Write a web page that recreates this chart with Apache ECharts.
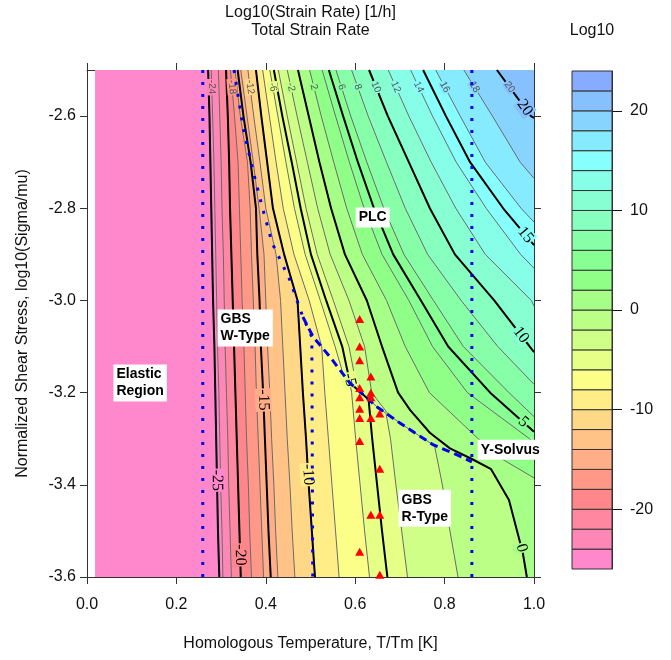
<!DOCTYPE html>
<html>
<head>
<meta charset="utf-8">
<title>Total Strain Rate</title>
<script src="https://cdn.jsdelivr.net/npm/echarts@6.0.0/dist/echarts.min.js"></script>
<style>
html,body{margin:0;padding:0;background:#ffffff;}
#chart{width:671px;height:660px;}
</style>
</head>
<body>
<div id="chart"></div>
<script>
// ---------------- data ----------------
const xTicks = [0.0, 0.2, 0.4, 0.6, 0.8, 1.0];
const yTicks = [-3.6, -3.4, -3.2, -3.0, -2.8, -2.6];
const keyTicks = [-20, -10, 0, 10, 20];
const keyLevels = [-26,-24,-22,-20,-18,-16,-14,-12,-10,-8,-6,-4,-2,0,2,4,6,8,10,12,14,16,18,20,22,24];
const bandColors = ['#FF87CB','#FF87B6','#FF87A0','#FF878B','#FF9887','#FFAE87','#FFC387','#FFD887','#FFED87','#FBFF87','#E5FF87','#D0FF87','#BBFF87','#A6FF87','#90FF87','#87FF93','#87FFA8','#87FFBE','#87FFD3','#87FFE8','#87FFFD','#87EBFF','#87D5FF','#87C0FF','#87ABFF'];

// contour lines: [T/Tm, log10(sigma/mu)] from the top edge downwards
const c_m25 = [[0.271,-2.5],[0.274,-2.6],[0.276,-2.7],[0.278,-2.8],[0.280,-2.9],[0.282,-3.0],[0.285,-3.1],[0.287,-3.2],[0.289,-3.3],[0.291,-3.4],[0.293,-3.5],[0.296,-3.6]];
const c_m24 = [[0.278,-2.5],[0.281,-2.6],[0.284,-2.7],[0.286,-2.8],[0.288,-2.9],[0.290,-3.0],[0.292,-3.1],[0.295,-3.2],[0.297,-3.3],[0.299,-3.4],[0.302,-3.5],[0.304,-3.6]];
const c_m22 = [[0.294,-2.5],[0.297,-2.6],[0.300,-2.7],[0.302,-2.8],[0.305,-2.9],[0.307,-3.0],[0.309,-3.1],[0.312,-3.2],[0.315,-3.3],[0.317,-3.4],[0.320,-3.5],[0.323,-3.6]];
const c_m20 = [[0.311,-2.5],[0.315,-2.6],[0.318,-2.7],[0.320,-2.8],[0.323,-2.9],[0.326,-3.0],[0.329,-3.1],[0.332,-3.2],[0.335,-3.3],[0.338,-3.4],[0.341,-3.5],[0.344,-3.6]];
const c_m18 = [[0.321,-2.5],[0.330,-2.6],[0.338,-2.7],[0.341,-2.8],[0.344,-2.9],[0.347,-3.0],[0.351,-3.1],[0.354,-3.2],[0.357,-3.3],[0.361,-3.4],[0.364,-3.5],[0.368,-3.6]];
const c_m16 = [[0.331,-2.5],[0.343,-2.6],[0.359,-2.7],[0.365,-2.8],[0.368,-2.9],[0.372,-3.0],[0.376,-3.1],[0.379,-3.2],[0.383,-3.3],[0.387,-3.4],[0.391,-3.5],[0.395,-3.6]];
const c_m15 = [[0.337,-2.5],[0.350,-2.6],[0.366,-2.7],[0.378,-2.8],[0.381,-2.9],[0.386,-3.0],[0.389,-3.1],[0.394,-3.2],[0.398,-3.3],[0.402,-3.4],[0.406,-3.5],[0.411,-3.6]];
const c_m14 = [[0.344,-2.5],[0.358,-2.6],[0.372,-2.7],[0.385,-2.8],[0.396,-2.9],[0.400,-3.0],[0.404,-3.1],[0.409,-3.2],[0.413,-3.3],[0.418,-3.4],[0.422,-3.5],[0.427,-3.6]];
const c_m12 = [[0.360,-2.5],[0.373,-2.6],[0.387,-2.7],[0.400,-2.8],[0.423,-2.9],[0.433,-3.0],[0.438,-3.1],[0.443,-3.2],[0.448,-3.3],[0.454,-3.4],[0.459,-3.5],[0.465,-3.6]];
const c_m10 = [[0.378,-2.5],[0.390,-2.6],[0.403,-2.7],[0.416,-2.8],[0.441,-2.9],[0.471,-3.0],[0.477,-3.1],[0.483,-3.2],[0.490,-3.3],[0.496,-3.4],[0.503,-3.5],[0.510,-3.6]];
const c_m8 = [[0.393,-2.5],[0.408,-2.6],[0.423,-2.7],[0.439,-2.8],[0.463,-2.9],[0.497,-3.0],[0.525,-3.1],[0.532,-3.2],[0.540,-3.3],[0.548,-3.4],[0.556,-3.5],[0.564,-3.6]];
const c_m6 = [[0.409,-2.5],[0.427,-2.6],[0.445,-2.7],[0.464,-2.8],[0.488,-2.9],[0.522,-3.0],[0.555,-3.1],[0.573,-3.16],[0.588,-3.179],[0.592,-3.2],[0.601,-3.3],[0.611,-3.4],[0.621,-3.5],[0.632,-3.6]];
const c_m5 = [[0.418,-2.5],[0.437,-2.6],[0.458,-2.7],[0.478,-2.8],[0.501,-2.9],[0.535,-3.0],[0.571,-3.1],[0.582,-3.15],[0.589,-3.179],[0.609,-3.197],[0.630,-3.215],[0.638,-3.3],[0.649,-3.4],[0.660,-3.5],[0.672,-3.6]];
const c_m4 = [[0.428,-2.5],[0.448,-2.6],[0.469,-2.7],[0.490,-2.8],[0.515,-2.9],[0.551,-3.0],[0.586,-3.1],[0.600,-3.17],[0.611,-3.198],[0.649,-3.231],[0.669,-3.245],[0.679,-3.3],[0.691,-3.4],[0.704,-3.5],[0.717,-3.6]];
const c_m2 = [[0.448,-2.5],[0.470,-2.6],[0.493,-2.7],[0.516,-2.8],[0.544,-2.9],[0.586,-3.0],[0.621,-3.1],[0.637,-3.2],[0.675,-3.248],[0.700,-3.266],[0.774,-3.313],[0.778,-3.318],[0.795,-3.4],[0.812,-3.5],[0.830,-3.6]];
const c_0 = [[0.472,-2.5],[0.496,-2.6],[0.520,-2.7],[0.546,-2.8],[0.577,-2.9],[0.626,-3.0],[0.660,-3.1],[0.696,-3.2],[0.723,-3.238],[0.767,-3.287],[0.812,-3.321],[0.861,-3.344],[0.904,-3.366],[0.944,-3.433],[0.975,-3.548],[0.984,-3.6]];
const c_2 = [[0.498,-2.5],[0.524,-2.6],[0.552,-2.7],[0.581,-2.8],[0.616,-2.9],[0.670,-3.0],[0.712,-3.1],[0.766,-3.2],[0.875,-3.3],[0.930,-3.345],[1.0,-3.385]];
const c_4 = [[0.526,-2.5],[0.556,-2.6],[0.587,-2.7],[0.620,-2.8],[0.660,-2.9],[0.720,-3.0],[0.773,-3.1],[0.851,-3.2],[0.990,-3.3],[1.0,-3.31]];
const c_5 = [[0.541,-2.5],[0.573,-2.6],[0.606,-2.7],[0.642,-2.8],[0.685,-2.9],[0.747,-3.0],[0.808,-3.1],[0.902,-3.2],[1.0,-3.285]];
const c_6 = [[0.557,-2.5],[0.590,-2.6],[0.626,-2.7],[0.664,-2.8],[0.709,-2.9],[0.775,-3.0],[0.842,-3.1],[0.944,-3.2],[1.0,-3.252]];
const c_8 = [[0.592,-2.5],[0.629,-2.6],[0.670,-2.7],[0.712,-2.8],[0.762,-2.9],[0.837,-3.0],[0.919,-3.1],[1.0,-3.182]];
const c_10 = [[0.631,-2.5],[0.673,-2.6],[0.720,-2.7],[0.767,-2.8],[0.823,-2.9],[0.911,-3.0],[1.0,-3.112]];
const c_12 = [[0.674,-2.5],[0.720,-2.6],[0.770,-2.7],[0.825,-2.8],[0.891,-2.9],[0.994,-3.0],[1.0,-3.012]];
const c_14 = [[0.724,-2.5],[0.773,-2.6],[0.826,-2.7],[0.893,-2.8],[0.970,-2.9],[1.0,-2.93]];
const c_15 = [[0.752,-2.5],[0.803,-2.6],[0.857,-2.7],[0.931,-2.8],[1.0,-2.88]];
const c_16 = [[0.780,-2.5],[0.835,-2.6],[0.891,-2.7],[0.971,-2.8],[1.0,-2.83]];
const c_18 = [[0.843,-2.5],[0.907,-2.6],[0.969,-2.7],[1.0,-2.735]];
const c_20 = [[0.917,-2.5],[0.993,-2.6],[1.0,-2.604]];

const thinLevels = [-24,-22,-20,-18,-16,-14,-12,-10,-8,-6,-4,-2,0,2,4,6,8,10,12,14,16,18,20];
const thickLevels = [-25,-20,-15,-10,-5,0,5,10,15,20];
const thickLabelY = [-3.39,-3.552,-3.216,-3.378,-3.172,-3.537,-3.264,-3.075,-2.858,-2.582];
const thinLabelLevels = [-24,-18,-12,-6,-2,2,6,8,10,12,14,16,18,20];
const thinLabelY = -2.537;

// mechanism boundaries
const elasticRegionT = [0.018, 0.259];
const elasticEdgeT = 0.259;
const solvusTempT = 0.861;
const gbsW_T = [0.329,0.349,0.371,0.392,0.414,0.454,0.483,0.503,0.505];
const gbsW_S = [-2.5,-2.624,-2.717,-2.797,-2.875,-2.956,-3.036,-3.079,-3.6];
const ySolvus_T = [0.483,0.506,0.544,0.588,0.649,0.700,0.774,0.828,0.861];
const ySolvus_S = [-3.036,-3.079,-3.123,-3.179,-3.231,-3.266,-3.313,-3.335,-3.350];

// test points (red triangles)
const testT = [0.61,0.61,0.61,0.635,0.61,0.635,0.61,0.635,0.61,0.61,0.635,0.655,0.61,0.655,0.635,0.655,0.61,0.655];
const testS = [-3.04,-3.10,-3.13,-3.165,-3.19,-3.20,-3.21,-3.21,-3.235,-3.255,-3.255,-3.245,-3.305,-3.365,-3.465,-3.465,-3.545,-3.595];

// region annotations (left edge of box, vertical centre)
const regionNames = ['Elastic\nRegion','GBS\nW-Type','PLC','GBS\nR-Type','Y-Solvus'];
const regionT = [0.058, 0.291, 0.600, 0.696, 0.873];
const regionS = [-3.179, -3.060, -2.820, -3.451, -3.324];

// ---------------- build options ----------------
const xMin = 0, xMax = 1, yMin = -3.6, yMax = -2.5;
const FONT = '"Liberation Sans", Arial, sans-serif';
const FS = 16;
const contourByLevel = {
  '-25': c_m25, '-24': c_m24, '-22': c_m22, '-20': c_m20, '-18': c_m18, '-16': c_m16, '-15': c_m15,
  '-14': c_m14, '-12': c_m12, '-10': c_m10, '-8': c_m8, '-6': c_m6, '-5': c_m5, '-4': c_m4, '-2': c_m2,
  '0': c_0, '2': c_2, '4': c_4, '5': c_5, '6': c_6, '8': c_8, '10': c_10, '12': c_12, '14': c_14,
  '15': c_15, '16': c_16, '18': c_18, '20': c_20
};
function bandIndexAbove(L) { return Math.floor((L - keyLevels[0]) / 2); }

// filled regions: base band, then "value >= L" regions painted in increasing order
const fillPolys = [];
fillPolys.push({ pts: [[elasticRegionT[0], yMax], [xMax, yMax], [xMax, yMin], [elasticRegionT[0], yMin]], color: bandColors[0] });
thinLevels.forEach(function (L) {
  const line = contourByLevel[L];
  const pts = line.slice();
  const last = pts[pts.length - 1];
  if (Math.abs(last[1] - yMin) < 1e-9 && last[0] < xMax) pts.push([xMax, yMin]);
  pts.push([xMax, yMax]);
  fillPolys.push({ pts: pts, color: bandColors[bandIndexAbove(L)] });
});

function locate(line, y) {
  for (let i = 0; i < line.length - 1; i++) {
    const a = line[i], b = line[i + 1];
    if (y <= a[1] && y >= b[1]) {
      const t = (a[1] - b[1]) === 0 ? 0 : (a[1] - y) / (a[1] - b[1]);
      return { x: a[0] + t * (b[0] - a[0]), a: a, b: b };
    }
  }
  return null;
}
const labelItems = [];
thickLevels.forEach(function (L, i) { labelItems.push({ L: L, y: thickLabelY[i], thick: true }); });
thinLabelLevels.forEach(function (L) { labelItems.push({ L: L, y: thinLabelY, thick: false }); });
labelItems.forEach(function (it) { it.loc = locate(contourByLevel[it.L], it.y); });

const series = [];
series.push({
  type: 'custom', name: 'fill', xAxisIndex: 0, yAxisIndex: 0, z: 1, silent: true,
  encode: { x: 0, y: 1 },
  data: fillPolys.map(function (p, i) { return [p.pts[0][0], p.pts[0][1], i]; }),
  renderItem: function (params, api) {
    const p = fillPolys[params.dataIndex];
    return { type: 'polygon', z2: params.dataIndex, shape: { points: p.pts.map(function (q) { return api.coord(q); }) }, style: { fill: p.color } };
  }
});
thinLevels.forEach(function (L) {
  series.push({ type: 'line', name: 'thin' + L, data: contourByLevel[L], showSymbol: false, symbol: 'none', silent: true, z: 2,
    lineStyle: { color: '#6b6b6b', width: 1 } });
});
thickLevels.forEach(function (L) {
  series.push({ type: 'line', name: 'thick' + L, data: contourByLevel[L], showSymbol: false, symbol: 'none', silent: true, z: 3,
    lineStyle: { color: '#000000', width: 2 } });
});
series.push({
  type: 'custom', name: 'contourLabels', xAxisIndex: 0, yAxisIndex: 0, z: 4, silent: true,
  encode: { x: 0, y: 1 },
  data: labelItems.map(function (it, i) { return [it.loc.x, it.y, i]; }),
  renderItem: function (params, api) {
    const it = labelItems[params.dataIndex];
    const c = api.coord([it.loc.x, it.y]);
    const a = api.coord(it.loc.a), b = api.coord(it.loc.b);
    const ang = Math.atan2(b[1] - a[1], b[0] - a[0]);
    return {
      type: 'text', x: c[0], y: c[1], rotation: -ang, z2: 10,
      style: {
        text: String(it.L), x: 0, y: 0, align: 'center', verticalAlign: 'middle',
        fill: it.thick ? '#000' : '#555',
        font: it.thick ? '16px "Liberation Serif", "DejaVu Serif", serif' : '10px "Liberation Sans", Arial, sans-serif',
        backgroundColor: bandColors[bandIndexAbove(it.L)], padding: [0, 1]
      }
    };
  }
});
const dotted = { color: '#0000EE', width: 3, type: [3, 9], cap: 'butt' };
series.push({ type: 'line', name: 'elastic', data: [[elasticEdgeT, yMax], [elasticEdgeT, yMin]], showSymbol: false, symbol: 'none', z: 5, silent: true, lineStyle: dotted });
series.push({ type: 'line', name: 'solvusT', data: [[solvusTempT, yMax], [solvusTempT, yMin]], showSymbol: false, symbol: 'none', z: 5, silent: true, lineStyle: dotted });
series.push({ type: 'line', name: 'gbsW', data: gbsW_T.map(function (t, i) { return [t, gbsW_S[i]]; }), showSymbol: false, symbol: 'none', z: 5, silent: true, lineStyle: dotted });
series.push({ type: 'line', name: 'ySolvus', data: ySolvus_T.map(function (t, i) { return [t, ySolvus_S[i]]; }), showSymbol: false, symbol: 'none', z: 5, silent: true,
  lineStyle: { color: '#0000EE', width: 3, type: [8, 5], cap: 'butt' } });
series.push({ type: 'scatter', name: 'tests', data: testT.map(function (t, i) { return [t, testS[i]]; }), symbol: 'triangle', symbolSize: [9, 8], z: 6, silent: true,
  itemStyle: { color: '#FF0000', opacity: 1 } });
series.push({
  type: 'scatter', name: 'regions', z: 7, silent: true, symbolSize: 1, itemStyle: { color: 'rgba(0,0,0,0)', opacity: 1 },
  data: regionNames.map(function (n, i) { return { name: n, value: [regionT[i], regionS[i]] }; }),
  label: { show: true, position: 'right', distance: 0, formatter: '{b}', color: '#000', fontWeight: 'bold', fontSize: 14,
    fontFamily: FONT, lineHeight: 17, backgroundColor: '#ffffff', padding: [2, 3, 1, 3], opacity: 1 }
});
series.push({
  type: 'custom', name: 'key', xAxisIndex: 2, yAxisIndex: 2, silent: true, z: 2,
  encode: { x: 0, y: 1 },
  data: bandColors.map(function (c, i) { return [0.5, keyLevels[i] + 1, i]; }),
  renderItem: function (params, api) {
    const i = params.dataIndex;
    const p1 = api.coord([0, keyLevels[i + 1]]);
    const p2 = api.coord([1, keyLevels[i]]);
    return { type: 'rect', shape: { x: p1[0], y: p1[1], width: p2[0] - p1[0], height: p2[1] - p1[1] },
      style: { fill: bandColors[i], stroke: '#333', lineWidth: 1 } };
  }
});

const axisCol = '#333';
const option = {
  animation: false,
  backgroundColor: '#ffffff',
  textStyle: { fontFamily: FONT },
  title: [
    { text: 'Log10(Strain Rate) [1/h]', left: 310.5, top: 5, padding: 0, textAlign: 'center', textStyle: { fontSize: FS, fontWeight: 'normal', color: '#111', fontFamily: FONT } },
    { text: 'Total Strain Rate', left: 310.5, top: 23, padding: 0, textAlign: 'center', textStyle: { fontSize: FS, fontWeight: 'normal', color: '#111', fontFamily: FONT } },
    { text: 'Log10', left: 592, top: 23, padding: 0, textAlign: 'center', textStyle: { fontSize: FS, fontWeight: 'normal', color: '#111', fontFamily: FONT } }
  ],
  grid: [
    { left: 87, top: 70, width: 447, height: 507, containLabel: false },
    { left: 572, top: 71, width: 40, height: 498, containLabel: false }
  ],
  xAxis: [
    { gridIndex: 0, type: 'value', min: xMin, max: xMax, interval: 0.2, position: 'bottom',
      axisLine: { show: true, onZero: false, lineStyle: { color: axisCol, width: 1 } },
      axisTick: { show: true, inside: false, length: 7, customValues: xTicks, lineStyle: { color: axisCol } },
      axisLabel: { show: true, customValues: xTicks, formatter: function (v) { return v.toFixed(1); }, fontSize: FS, color: '#111', margin: 20, fontFamily: FONT },
      splitLine: { show: false },
      name: 'Homologous Temperature, T/Tm [K]', nameLocation: 'middle', nameGap: 59,
      nameTextStyle: { fontSize: FS, color: '#111', fontFamily: FONT } },
    { gridIndex: 0, type: 'value', min: xMin, max: xMax, interval: 0.2, position: 'top',
      axisLine: { show: true, onZero: false, lineStyle: { color: axisCol, width: 1 } },
      axisTick: { show: true, inside: false, length: 7, customValues: xTicks, lineStyle: { color: axisCol } },
      axisLabel: { show: false }, splitLine: { show: false } },
    { gridIndex: 1, type: 'value', min: 0, max: 1, show: false }
  ],
  yAxis: [
    { gridIndex: 0, type: 'value', min: yMin, max: yMax, interval: 0.2, position: 'left',
      axisLine: { show: true, onZero: false, lineStyle: { color: axisCol, width: 1 } },
      axisTick: { show: true, inside: false, length: 7, customValues: yTicks, lineStyle: { color: axisCol } },
      axisLabel: { show: true, customValues: yTicks, formatter: function (v) { return v.toFixed(1); }, fontSize: FS, color: '#111', margin: 11, fontFamily: FONT },
      splitLine: { show: false },
      name: 'Normalized Shear Stress, log10(Sigma/mu)', nameLocation: 'middle', nameGap: 56, nameRotate: 90,
      nameTextStyle: { fontSize: FS, color: '#111', fontFamily: FONT } },
    { gridIndex: 0, type: 'value', min: yMin, max: yMax, interval: 0.2, position: 'right',
      axisLine: { show: true, onZero: false, lineStyle: { color: axisCol, width: 1 } },
      axisTick: { show: true, inside: false, length: 7, customValues: yTicks, lineStyle: { color: axisCol } },
      axisLabel: { show: false }, splitLine: { show: false } },
    { gridIndex: 1, type: 'value', min: -26, max: 24, position: 'right',
      axisLine: { show: true, onZero: false, lineStyle: { color: axisCol, width: 1 } },
      axisTick: { show: true, inside: false, length: 10, customValues: keyTicks, lineStyle: { color: '#111' } },
      axisLabel: { show: true, customValues: keyTicks, fontSize: FS, color: '#111', margin: 18, fontFamily: FONT },
      splitLine: { show: false } }
  ],
  series: series
};

const chart = echarts.init(document.getElementById('chart'), null, { renderer: 'canvas' });
chart.setOption(option);
</script>
</body>
</html>
